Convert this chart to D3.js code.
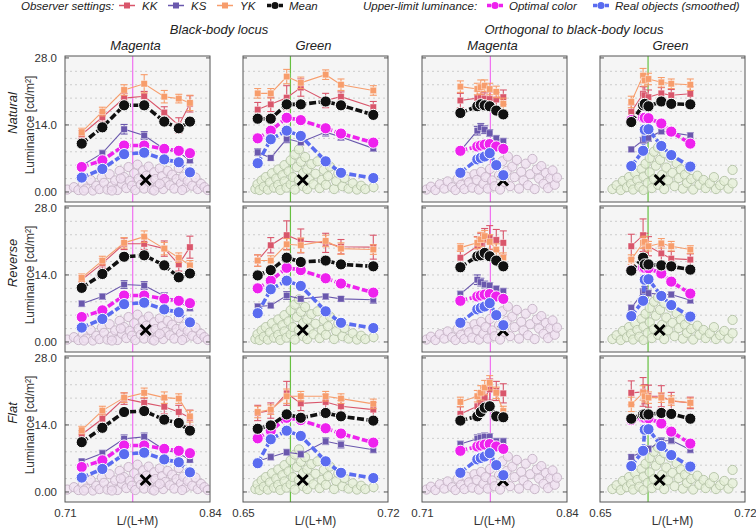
<!DOCTYPE html>
<html><head><meta charset="utf-8">
<script src="https://cdn.jsdelivr.net/npm/d3@7"></script>
<style>body{margin:0;background:#fff;} text{font-family:"Liberation Sans",Arial,sans-serif;}</style>
</head><body><svg id="c" width="756" height="530"></svg>
<script>
const rowNames = ["Natural","Reverse","Flat"];
const groupNames = ["Black-body locus","Orthogonal to black-body locus"];
const colNames = ["Magenta","Green","Magenta","Green"];
const xDomains = [[0.71,0.84],[0.65,0.72],[0.71,0.84],[0.65,0.72]];
const xTickVals = [[0.71,0.84],[0.65,0.72],[0.71,0.84],[0.65,0.72]];
const xTickLabels = [["0.71","0.84"],["0.65","0.72"],["0.71","0.84"],["0.65","0.72"]];
const yTicks = [0,14,28];
const yTickLabels = ["0.00","14.0","28.0"];
const refLine = [0.7707,0.6729,0.7713,0.6732];
const xPos = [
 [0.725,0.7435,0.763,0.781,0.799,0.812,0.822],
 [0.6571,0.6634,0.6711,0.6779,0.6899,0.6973,0.7129],
 [0.7444,0.7596,0.7627,0.7662,0.7707,0.7766,0.7829],
 [0.6651,0.6708,0.6716,0.6734,0.6796,0.6844,0.6936]
];
// [row][col]
const meanVals = [
 [[10.0,13.4,18.0,18.0,14.6,13.2,14.6],[15.2,15.2,18.2,18.2,18.8,18.0,16.0],[16.4,17.8,18.2,18.0,17.8,16.9,16.1],[14.5,18.0,18.3,17.8,18.8,18.3,18.2]],
 [[11.2,14.1,17.7,18.0,15.9,13.4,14.2],[13.8,14.9,17.5,16.6,16.9,16.1,15.7],[15.5,17.8,18.0,18.5,17.8,16.9,15.7],[14.8,17.5,16.1,16.1,15.9,15.7,15.0]],
 [[10.3,13.3,16.6,16.8,15.0,14.3,12.7],[13.1,13.8,16.1,15.4,16.4,15.7,14.8],[14.8,15.7,16.6,17.5,17.8,15.7,15.5],[15.2,16.1,16.1,16.1,16.4,16.2,15.2]]
];
const KKVals = [
 [[11.9,15.5,19.5,19.9,16.5,13.8,18.3],[17.1,18.2,19.6,21.7,19.0,19.8,17.6],[19.0,19.5,19.8,19.4,19.3,19.2,19.7],[16.6,20.4,20.1,19.7,20.5,20.1,20.4]],
 [[12.9,16.3,20.4,20.4,19.4,16.1,19.7],[16.9,20.1,22.2,21.0,20.6,19.8,19.7],[17.5,19.9,20.6,21.3,21.7,21.2,20.6],[19.9,22.2,20.6,19.9,18.4,17.3,17.1]],
 [[11.9,15.2,19.4,18.5,17.7,16.6,15.4],[16.4,16.9,20.5,18.4,18.7,17.8,17.1],[16.2,17.8,18.5,19.6,21.3,21.0,20.5],[20.6,20.8,20.3,19.9,19.9,18.9,18.5]]
];
const KKErr = [
 [[0.8,1.0,1.0,1.0,1.2,1.6,1.7],[1.5,1.5,2.5,1.8,1.5,1.0,1.2],[1.5,1.5,1.5,1.2,1.5,1.5,1.5],[1.5,1.5,1.8,1.5,1.2,1.2,1.5]],
 [[0.8,1.0,1.2,1.2,1.6,1.4,2.3],[1.2,1.6,3.0,2.5,2.0,1.5,2.5],[1.5,2.0,2.0,2.3,2.5,2.2,2.5],[2.5,3.4,2.0,2.0,1.5,1.5,1.2]],
 [[0.8,1.0,1.2,1.0,1.5,1.4,1.6],[1.6,1.6,2.5,1.5,1.6,1.2,1.5],[1.5,2.0,2.0,2.2,2.2,2.0,2.0],[2.5,3.0,2.0,2.3,2.2,1.8,1.2]]
];
const YKVals = [
 [[12.4,16.7,21.2,22.5,19.8,19.4,18.5],[20.5,20.5,24.0,22.7,24.4,22.3,21.1],[21.9,21.4,21.8,22.1,21.4,20.8,18.3],[18.7,24.2,23.2,23.5,22.8,22.5,22.3]],
 [[13.3,16.9,20.6,21.9,19.4,17.5,15.9],[16.9,16.9,20.3,20.1,21.0,19.4,19.2],[19.6,20.6,21.3,22.0,20.8,19.2,17.5],[17.1,20.6,20.8,19.9,20.5,19.9,19.2]],
 [[12.8,16.9,19.6,20.6,19.6,19.4,15.7],[16.6,17.1,19.9,19.9,19.9,19.4,18.3],[18.7,19.9,20.6,21.7,22.7,20.6,16.8],[18.2,20.6,19.9,19.6,19.6,19.0,18.5]]
];
const YKErr = [
 [[0.8,0.9,1.1,1.9,1.3,0.9,1.6],[1.0,1.0,1.5,1.2,1.0,1.2,1.0],[1.2,1.2,1.5,1.2,1.2,1.2,1.2],[1.2,1.5,1.2,1.2,1.0,1.0,1.2]],
 [[0.8,0.9,1.1,1.2,1.3,1.0,1.0],[1.2,1.0,1.2,1.5,1.2,1.2,1.0],[0.8,1.2,1.5,1.2,1.5,1.2,1.0],[1.0,1.2,1.2,1.0,1.0,1.0,0.8]],
 [[0.8,0.9,1.0,1.0,1.2,1.0,1.2],[1.2,1.0,1.5,1.0,1.0,1.0,1.0],[1.0,1.2,1.5,1.5,1.5,1.2,1.0],[1.5,1.5,1.2,1.2,1.0,1.0,1.0]]
];
const KSVals = [
 [[5.4,8.0,13.0,11.7,8.9,8.2,6.5],[8.2,7.0,11.0,10.3,12.4,11.4,9.0],[8.5,12.7,13.4,12.9,12.2,11.1,10.5],[8.8,10.7,11.0,11.2,12.6,12.3,11.7]],
 [[7.9,9.4,11.9,11.7,9.5,8.3,7.0],[7.3,7.5,9.6,8.9,9.4,8.9,8.7],[9.9,12.9,12.4,11.9,11.7,11.0,10.5],[7.0,10.3,10.7,10.1,9.8,9.8,8.6]],
 [[6.3,8.0,11.0,11.4,8.7,8.0,6.6],[6.3,7.2,8.2,7.8,10.5,9.8,8.7],[9.9,11.0,11.2,11.4,11.4,10.5,10.5],[7.2,8.4,8.7,8.9,10.5,10.7,8.7]]
];
const KSErr = [
 [[0.5,0.6,1.0,0.8,0.7,0.6,0.5],[0.7,0.5,0.8,0.6,0.8,0.7,0.6],[0.6,0.9,0.8,0.8,0.7,0.6,0.6],[0.5,0.6,0.8,0.7,0.6,0.6,0.6]],
 [[0.6,0.6,0.8,0.8,0.7,0.6,0.6],[0.6,0.5,0.8,0.5,0.6,0.5,0.7],[0.6,1.0,0.8,0.7,0.6,0.6,0.6],[0.6,0.7,0.8,0.6,0.6,0.6,0.6]],
 [[0.5,0.6,0.8,0.8,0.6,0.6,0.5],[0.6,0.6,0.6,0.6,0.7,0.7,0.6],[0.6,0.8,0.8,0.8,0.7,0.6,0.6],[0.5,0.6,0.6,0.6,0.7,0.7,0.6]]
];
// [col] (same for all rows)
const optimalVals = [
 [5.1,6.5,9.6,9.6,8.9,8.5,8.0],
 [11.1,12.7,15.4,14.9,13.2,12.1,10.2],
 [8.5,9.4,9.6,9.8,9.9,9.4,8.9],
 [14.9,15.4,15.4,15.3,14.2,12.5,10.0]
];
const realVals = [
 [2.9,4.7,7.8,8.1,6.7,6.1,4.0],
 [5.9,10.9,12.7,11.6,6.3,3.9,2.8],
 [3.9,6.7,7.0,7.3,8.0,5.5,3.4],
 [5.3,8.5,12.9,13.0,9.5,7.6,5.2]
];
const crossX = [0.7823,0.6788,0.7826,0.6788];
const crossY = [2.4,2.4,2.3,2.4];
const objBM = [[0.712,0.4],[0.718,0.9],[0.722,0.3],[0.726,1.6],[0.729,0.6],[0.733,2.4],[0.735,0.2],[0.738,1.2],[0.741,0.5],[0.743,2.9],[0.745,1.8],[0.748,0.4],[0.750,3.6],[0.752,1.1],[0.755,2.3],[0.757,0.3],[0.759,4.3],[0.761,1.6],[0.763,3.0],[0.765,0.7],[0.767,5.1],[0.768,2.2],[0.770,1.2],[0.772,3.8],[0.773,0.3],[0.775,5.6],[0.776,2.7],[0.778,1.4],[0.780,4.4],[0.781,0.6],[0.783,3.3],[0.785,5.2],[0.786,1.9],[0.788,0.4],[0.790,4.0],[0.791,2.6],[0.793,1.1],[0.795,4.8],[0.797,3.2],[0.798,0.5],[0.800,2.0],[0.802,4.3],[0.804,1.3],[0.806,3.5],[0.808,0.6],[0.810,2.6],[0.812,4.9],[0.814,1.7],[0.816,3.1],[0.818,0.8],[0.820,2.2],[0.822,4.0],[0.824,1.2],[0.827,2.9],[0.829,0.5],[0.832,1.6],[0.835,0.9],[0.838,0.3],[0.727,0.2],[0.752,0.2],[0.790,0.2],[0.815,0.3],[0.760,2.7],[0.795,1.6]];
const objBG = [[0.656,0.5],[0.657,1.5],[0.658,0.3],[0.659,2.3],[0.660,1.0],[0.661,3.0],[0.662,0.4],[0.663,1.9],[0.664,3.8],[0.665,0.8],[0.666,2.7],[0.667,4.6],[0.667,1.4],[0.668,0.3],[0.669,3.4],[0.670,5.5],[0.670,2.1],[0.671,0.8],[0.672,4.2],[0.673,6.5],[0.673,1.5],[0.674,3.0],[0.675,7.7],[0.675,0.4],[0.676,5.1],[0.677,2.4],[0.677,8.8],[0.678,6.2],[0.679,1.1],[0.679,3.8],[0.680,7.2],[0.681,4.6],[0.681,0.5],[0.682,2.6],[0.683,5.7],[0.684,1.5],[0.685,3.7],[0.686,6.3],[0.687,0.7],[0.688,2.4],[0.689,4.5],[0.690,1.4],[0.691,3.2],[0.692,5.2],[0.694,0.5],[0.695,2.2],[0.696,3.8],[0.698,1.1],[0.699,2.8],[0.701,0.6],[0.703,1.7],[0.705,0.4],[0.707,1.2],[0.709,0.5],[0.713,0.9],[0.713,2.6]];
const objOM = [[0.714,0.4],[0.718,1.0],[0.722,0.3],[0.726,1.5],[0.730,0.6],[0.733,2.1],[0.737,0.9],[0.740,0.3],[0.742,2.6],[0.745,1.4],[0.748,0.5],[0.750,3.1],[0.752,1.9],[0.755,0.8],[0.757,3.6],[0.759,2.4],[0.761,0.4],[0.763,4.1],[0.765,1.6],[0.767,3.0],[0.769,0.6],[0.771,4.7],[0.773,2.3],[0.775,1.1],[0.777,5.5],[0.779,3.4],[0.780,0.4],[0.782,6.3],[0.784,2.0],[0.786,4.3],[0.787,7.3],[0.789,1.1],[0.791,5.2],[0.793,3.0],[0.795,6.6],[0.797,0.6],[0.799,4.1],[0.801,2.3],[0.803,5.8],[0.805,1.3],[0.807,3.6],[0.809,6.8],[0.811,0.5],[0.813,4.6],[0.815,2.7],[0.817,5.3],[0.819,1.6],[0.821,3.9],[0.823,0.7],[0.825,2.8],[0.827,4.4],[0.829,1.4],[0.831,2.9]];
const objOG = [[0.656,0.5],[0.658,1.3],[0.660,0.3],[0.661,2.2],[0.663,0.9],[0.664,3.0],[0.665,1.6],[0.666,0.4],[0.667,3.8],[0.668,2.4],[0.669,1.0],[0.670,4.7],[0.671,3.1],[0.671,0.3],[0.672,5.8],[0.673,1.8],[0.674,7.0],[0.674,4.0],[0.675,0.7],[0.676,8.3],[0.676,2.6],[0.677,5.4],[0.678,9.2],[0.678,1.4],[0.679,6.6],[0.680,3.5],[0.681,8.0],[0.681,0.5],[0.682,5.0],[0.683,2.3],[0.684,7.1],[0.685,3.9],[0.686,1.1],[0.687,5.9],[0.688,2.8],[0.689,4.6],[0.690,0.6],[0.691,3.5],[0.692,1.8],[0.693,4.8],[0.694,2.6],[0.695,0.4],[0.697,3.3],[0.698,1.4],[0.700,2.4],[0.701,0.7],[0.703,1.7],[0.705,3.0],[0.706,0.5],[0.708,1.3],[0.710,2.2],[0.712,0.6],[0.714,4.5],[0.714,1.7]];
const objects = [objBM, objBG, objOM, objOG];

const C = {KK:"#d9566b", KS:"#6a58ad", YK:"#f79d6c", Mean:"#111111", Opt:"#ee22ee", Real:"#5a6cf0"};
const refColor = ["#f070f0","#66c040","#f070f0","#66c040"];
const objFill = ["#efdff0","#e4efd6","#efdff0","#e4efd6"];
const objStroke = ["#c9b7c9","#b9c7ab","#c9b7c9","#b9c7ab"];

const svg = d3.select("#c");
const colLeft = [65,243,422,600], rowTop = [56,206,356], PW = 145, PH = 146;
const defs = svg.append("defs");

function observer(g, x, y, xs, vals, errs, color){
  const pts = xs.map((d,i)=>({x:d, y:vals[i], e:errs[i]}));
  g.append("path").datum(pts).attr("fill","none").attr("stroke",color).attr("stroke-width",1.1)
    .attr("d", d3.line().x(d=>x(d.x)).y(d=>y(d.y)));
  const eb = g.append("g").attr("stroke",color).attr("stroke-width",1.1);
  pts.forEach(d=>{
    eb.append("line").attr("x1",x(d.x)).attr("x2",x(d.x)).attr("y1",y(d.y-d.e)).attr("y2",y(d.y+d.e));
    [d.y-d.e,d.y+d.e].forEach(v=>eb.append("line").attr("x1",x(d.x)-3.5).attr("x2",x(d.x)+3.5).attr("y1",y(v)).attr("y2",y(v)));
  });
  g.selectAll(null).data(pts).enter().append("rect")
    .attr("x",d=>x(d.x)-3.2).attr("y",d=>y(d.y)-3.2).attr("width",6.4).attr("height",6.4)
    .attr("fill",color).attr("stroke","#fff").attr("stroke-width",0.6).attr("stroke-opacity",0.6);
}
function thick(g, x, y, xs, vals, color){
  const pts = xs.map((d,i)=>({x:d, y:vals[i]}));
  g.append("path").datum(pts).attr("fill","none").attr("stroke",color).attr("stroke-width",3.6)
    .attr("stroke-dasharray","7,2.5").attr("d", d3.line().x(d=>x(d.x)).y(d=>y(d.y)));
  g.selectAll(null).data(pts).enter().append("circle")
    .attr("cx",d=>x(d.x)).attr("cy",d=>y(d.y)).attr("r",5.6)
    .attr("fill",color).attr("stroke","#fff").attr("stroke-width",1);
}

for(let r=0;r<3;r++){
  for(let c=0;c<4;c++){
    const L = colLeft[c], T = rowTop[r];
    const x = d3.scaleLinear().domain(xDomains[c]).range([L, L+PW]);
    const y = d3.scaleLinear().domain([-2.2,28.3]).range([T+PH, T]);
    const id = "clip"+r+c;
    defs.append("clipPath").attr("id",id).append("rect").attr("x",L).attr("y",T).attr("width",PW).attr("height",PH);
    const g = svg.append("g");
    g.append("rect").attr("x",L).attr("y",T).attr("width",PW).attr("height",PH).attr("fill","#f5f5f5");
    const grid = g.append("g").attr("transform",`translate(${L},0)`)
      .call(d3.axisLeft(y).tickValues(d3.range(0,26,2.8)).tickSize(-PW).tickFormat(""));
    grid.select(".domain").remove();
    grid.selectAll("line").attr("stroke","#c8c8c8").attr("stroke-dasharray","2,3").attr("stroke-width",0.9);
    const inner = g.append("g").attr("clip-path",`url(#${id})`);
    inner.append("line").attr("x1",x(refLine[c])).attr("x2",x(refLine[c])).attr("y1",T).attr("y2",T+PH)
      .attr("stroke",refColor[c]).attr("stroke-width",1.2);
    inner.selectAll(null).data(objects[c]).enter().append("circle")
      .attr("cx",d=>x(d[0])).attr("cy",d=>y(d[1])).attr("r",4.6)
      .attr("fill",objFill[c]).attr("fill-opacity",0.75).attr("stroke",objStroke[c]).attr("stroke-width",1);
    const cx = x(crossX[c]), cy = y(crossY[c]);
    inner.append("path").attr("d",`M${cx-5},${cy-5}L${cx+5},${cy+5}M${cx-5},${cy+5}L${cx+5},${cy-5}`)
      .attr("stroke","#000").attr("stroke-width",3);
    observer(inner, x, y, xPos[c], KKVals[r][c], KKErr[r][c], C.KK);
    observer(inner, x, y, xPos[c], KSVals[r][c], KSErr[r][c], C.KS);
    observer(inner, x, y, xPos[c], YKVals[r][c], YKErr[r][c], C.YK);
    thick(inner, x, y, xPos[c], optimalVals[c], C.Opt);
    thick(inner, x, y, xPos[c], realVals[c], C.Real);
    thick(inner, x, y, xPos[c], meanVals[r][c], C.Mean);
    g.append("rect").attr("x",L).attr("y",T).attr("width",PW).attr("height",PH)
      .attr("fill","none").attr("stroke","#555").attr("stroke-width",1);
    const ax = g.append("g").attr("transform",`translate(${L},0)`)
      .call(d3.axisLeft(y).tickValues(yTicks).tickSize(-4).tickPadding(8)
        .tickFormat((d,i)=> c===0 ? yTickLabels[i] : ""));
    ax.select(".domain").remove();
    ax.selectAll("line").attr("stroke","#555");
    ax.selectAll("text").attr("font-size",11.5).attr("fill","#333").attr("font-family","Liberation Sans, Arial, sans-serif");
    const axr = g.append("g").attr("transform",`translate(${L+PW},0)`)
      .call(d3.axisRight(y).tickValues(yTicks).tickSize(-4).tickFormat(""));
    axr.select(".domain").remove();
    axr.selectAll("line").attr("stroke","#555");
    if(r===2){
      const axb = g.append("g").attr("transform",`translate(0,${T+PH})`)
        .call(d3.axisBottom(x).tickValues(xTickVals[c]).tickSize(0).tickPadding(7)
          .tickFormat((d,i)=>xTickLabels[c][i]));
      axb.select(".domain").remove();
      axb.selectAll("text").attr("font-size",11.5).attr("fill","#333").attr("font-family","Liberation Sans, Arial, sans-serif");
      svg.append("text").attr("x",L+PW/2).attr("y",525).attr("text-anchor","middle")
        .attr("font-size",12).attr("fill","#333").text("L/(L+M)");
    }
    if(r===0){
      svg.append("text").attr("x",L+PW/2-2).attr("y",50).attr("text-anchor","middle")
        .attr("font-size",13).attr("font-style","italic").attr("fill","#222").text(colNames[c]);
    }
  }
  svg.append("text").attr("transform",`translate(17,${rowTop[r]+57}) rotate(-90)`).attr("text-anchor","middle")
    .attr("font-size",13).attr("font-style","italic").attr("fill","#222").text(rowNames[r]);
  svg.append("text").attr("transform",`translate(34,${rowTop[r]+69}) rotate(-90)`).attr("text-anchor","middle")
    .attr("font-size",12).attr("fill","#333").text("Luminance [cd/m²]");
}
svg.append("text").attr("x",219).attr("y",34).attr("text-anchor","middle").attr("font-size",13)
  .attr("font-style","italic").attr("fill","#222").text(groupNames[0]);
svg.append("text").attr("x",574).attr("y",34).attr("text-anchor","middle").attr("font-size",13)
  .attr("font-style","italic").attr("fill","#222").text(groupNames[1]);

// legend
const lg = svg.append("g").attr("font-size",11.5).attr("font-style","italic").attr("fill","#222");
lg.append("text").attr("x",21).attr("y",10).text("Observer settings:");
lg.append("text").attr("x",363).attr("y",10).text("Upper-limit luminance:");
function legObs(x0, color, label){
  lg.append("line").attr("x1",x0).attr("x2",x0+16).attr("y1",5.5).attr("y2",5.5).attr("stroke",color).attr("stroke-width",1.5);
  lg.append("rect").attr("x",x0+5).attr("y",2.5).attr("width",6).attr("height",6).attr("fill",color);
  lg.append("text").attr("x",x0+23).attr("y",10).text(label);
}
function legThick(x0, color, label){
  lg.append("line").attr("x1",x0).attr("x2",x0+16).attr("y1",5.5).attr("y2",5.5).attr("stroke",color)
    .attr("stroke-width",3.5).attr("stroke-dasharray","4,2");
  lg.append("circle").attr("cx",x0+8).attr("cy",5.5).attr("r",3.6).attr("fill",color);
  lg.append("text").attr("x",x0+22).attr("y",10).text(label);
}
legObs(119, C.KK, "KK");
legObs(168, C.KS, "KS");
legObs(217, C.YK, "YK");
legThick(267, C.Mean, "Mean");
legThick(487, C.Opt, "Optimal color");
legThick(593, C.Real, "Real objects (smoothed)");
</script></body></html>
